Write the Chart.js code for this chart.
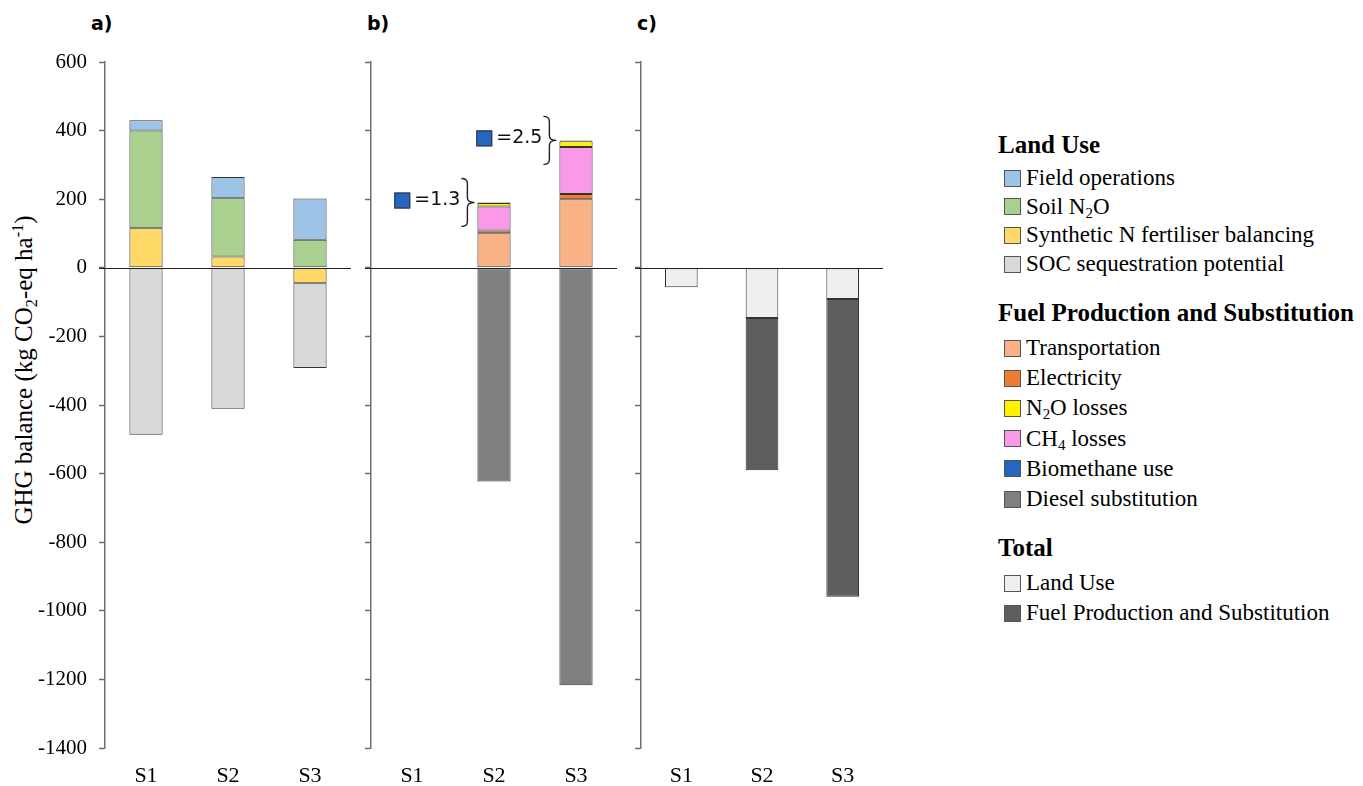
<!DOCTYPE html>
<html>
<head>
<meta charset="utf-8">
<script src="https://cdn.jsdelivr.net/npm/chart.js@4.4.0/dist/chart.umd.min.js"></script>
<style>
  html, body { margin: 0; padding: 0; background: #fff; }
  body { width: 1363px; height: 786px; position: relative; overflow: hidden;
         font-family: "Liberation Serif", "Times New Roman", serif; color: #000; }
  .panel { position: absolute; top: 0; height: 786px; }
  .panel canvas { display: block; }
  .tag { position: absolute; top: 12px; font: bold 19px "DejaVu Sans", Verdana, sans-serif; }
  .ytitle { position: absolute; left: 24px; top: 370px; white-space: nowrap; font-size: 25px;
            transform: translate(-50%, -50%) rotate(-90deg); }
  .ytitle sub, .legend sub { font-size: 0.65em; vertical-align: -0.3em; line-height: 0; }
  .ytitle sup { font-size: 0.65em; vertical-align: 0.55em; line-height: 0; }
  .legend { position: absolute; left: 0; top: 0; }
  .legend .head { position: absolute; left: 998px; font-weight: bold; font-size: 25px;
                  white-space: nowrap; transform: translateY(-50%); }
  .legend .row { position: absolute; left: 1004px; white-space: nowrap; font-size: 23px;
                 display: flex; align-items: center; transform: translateY(-50%); }
  .legend .sw { width: 15px; height: 15px; border: 1px solid #555; margin-right: 5px; flex: none; }
</style>
</head>
<body>
<div class="tag" style="left:91px">a)</div>
<div class="tag" style="left:367px">b)</div>
<div class="tag" style="left:637px">c)</div>
<div class="ytitle">GHG balance (kg CO<sub>2</sub>-eq ha<sup>-1</sup>)</div>

<div class="panel" style="left:0;width:360px"><canvas id="chartA" width="360" height="786"></canvas></div>
<div class="panel" style="left:360px;width:270px"><canvas id="chartB" width="270" height="786"></canvas></div>
<div class="panel" style="left:630px;width:270px"><canvas id="chartC" width="270" height="786"></canvas></div>

<div class="legend" id="legend"></div>

<script>
// Scenarios on the category axis
const scenarios = ['S1', 'S2', 'S3'];

// Value axis (kg CO2-eq ha-1)
const yMin = -1400;
const yMax = 600;
const yStep = 200;

// a) Land use components
const syntheticNBalancing = [115, 33, -45];
const soilN2O = [285, 170, 82];
const fieldOperations = [30, 62, 120];
const socSequestration = [-487, -411, -247];

// b) Fuel production and substitution components
const transportation = [null, 101, 200];
const electricity = [null, 8, 15];
const ch4Losses = [null, 70, 137];
const n2oLosses = [null, 10, 17];
const biomethaneUse = [null, 1.3, 2.5];
const dieselSubstitution = [null, -623, -1217];

// c) Totals
const totalLandUse = [-57, -146, -91];
const totalFuelProduction = [null, -444, -868];

const COLORS = {
  field: '#9DC3E6', soil: '#A9D08E', synth: '#FFD966', soc: '#D9D9D9',
  transport: '#F9B285', elec: '#ED7D31', n2o: '#FFF100', ch4: '#F999E7',
  biomethane: '#2566BE', diesel: '#7F7F7F', totLand: '#EFEFEF', totFuel: '#5E5E5E'
};

const SERIF = "'Liberation Serif', 'Times New Roman', serif";
Chart.defaults.font.family = SERIF;
Chart.defaults.font.size = 20;
Chart.defaults.color = '#000';

function ds(label, data, color) {
  return { label, data, backgroundColor: color, borderColor: '#333', borderWidth: 1,
           borderSkipped: false, categoryPercentage: 1, barPercentage: 0.405 };
}

// Horizontal line at zero across the plot, starting at the tick marks
const zeroLine = {
  id: 'zeroLine',
  afterDatasetsDraw(chart) {
    const y = Math.round(chart.scales.y.getPixelForValue(0)) + 0.5;
    const { left, right } = chart.chartArea;
    const ctx = chart.ctx;
    ctx.save();
    ctx.strokeStyle = '#222';
    ctx.lineWidth = 1;
    ctx.beginPath();
    ctx.moveTo(left - 6, y);
    ctx.lineTo(right, y);
    ctx.stroke();
    ctx.restore();
  }
};

// Bracketed call-out giving the (tiny) biomethane use value for each stack
const biomethaneCallout = {
  id: 'biomethaneCallout',
  afterDatasetsDraw(chart) {
    const idx = chart.data.datasets.findIndex(d => d.label === 'Biomethane use');
    const meta = chart.getDatasetMeta(idx);
    const ctx = chart.ctx;
    chart.data.datasets[idx].data.forEach((v, i) => {
      if (v == null) return;
      const bar = meta.data[i];
      const yc = bar.y;
      const barLeft = bar.x - bar.width / 2;
      const bx = barLeft - 10, tip = barLeft - 3, h = 24, hook = 6;
      ctx.save();
      ctx.strokeStyle = '#222';
      ctx.lineWidth = 1.4;
      ctx.beginPath();
      ctx.moveTo(bx - hook, yc - h);
      ctx.quadraticCurveTo(bx, yc - h, bx, yc - h + 5);
      ctx.lineTo(bx, yc - 5);
      ctx.quadraticCurveTo(bx, yc, tip, yc);
      ctx.moveTo(tip, yc);
      ctx.quadraticCurveTo(bx, yc, bx, yc + 5);
      ctx.lineTo(bx, yc + h - 5);
      ctx.quadraticCurveTo(bx, yc + h, bx - hook, yc + h);
      ctx.stroke();
      const label = '=' + v.toFixed(1);
      ctx.font = "19px 'DejaVu Sans', Verdana, sans-serif";
      ctx.fillStyle = '#111';
      ctx.textAlign = 'right';
      ctx.textBaseline = 'middle';
      const tx = bx - 7;
      ctx.fillText(label, tx, yc - 2);
      const w = ctx.measureText(label).width;
      const sx = tx - w - 4 - 16;
      ctx.fillStyle = COLORS.biomethane;
      ctx.fillRect(sx, yc - 10, 16, 16);
      ctx.strokeStyle = '#333';
      ctx.lineWidth = 1;
      ctx.strokeRect(sx + 0.5, yc - 9.5, 15, 15);
      ctx.restore();
    });
  }
};

function makePanel(id, datasets, axisWidth, padRight, showLabels, extraPlugins) {
  return new Chart(document.getElementById(id), {
    type: 'bar',
    data: { labels: scenarios, datasets },
    options: {
      responsive: false,
      animation: false,
      devicePixelRatio: 1,
      layout: { padding: { top: 62, right: padRight, bottom: 0, left: 0 } },
      plugins: { legend: { display: false }, tooltip: { enabled: false } },
      scales: {
        x: {
          stacked: true,
          grid: { display: false, drawTicks: false },
          border: { display: false },
          ticks: { color: '#000', padding: 15, font: { family: SERIF, size: 22 } },
          afterFit(scale) { scale.height = 38; }
        },
        y: {
          stacked: true,
          min: yMin, max: yMax,
          ticks: { stepSize: yStep, display: showLabels, color: '#000', padding: 12,
                   font: { family: SERIF, size: 21 },
                   callback: (v) => String(v) },
          grid: { drawOnChartArea: false, drawTicks: true, tickLength: 6,
                  tickColor: '#6f6f6f', tickWidth: 1.5 },
          border: { display: true, color: '#6f6f6f', width: 1.5 },
          afterFit(scale) { scale.width = axisWidth; }
        }
      }
    },
    plugins: [zeroLine].concat(extraPlugins || [])
  });
}

makePanel('chartA', [
  ds('Synthetic N fertiliser balancing', syntheticNBalancing, COLORS.synth),
  ds('Soil N2O', soilN2O, COLORS.soil),
  ds('Field operations', fieldOperations, COLORS.field),
  ds('SOC sequestration potential', socSequestration, COLORS.soc)
], 105, 9, true);

makePanel('chartB', [
  ds('Transportation', transportation, COLORS.transport),
  ds('Electricity', electricity, COLORS.elec),
  ds('CH4 losses', ch4Losses, COLORS.ch4),
  ds('N2O losses', n2oLosses, COLORS.n2o),
  ds('Biomethane use', biomethaneUse, COLORS.biomethane),
  ds('Diesel substitution', dieselSubstitution, COLORS.diesel)
], 11, 13, false, [biomethaneCallout]);

makePanel('chartC', [
  ds('Land Use', totalLandUse, COLORS.totLand),
  ds('Fuel Production and Substitution', totalFuelProduction, COLORS.totFuel)
], 11, 17, false);

// Grouped legend
const legendGroups = [
  { title: 'Land Use', top: 145, first: 178, step: 28.7, items: [
    ['Field operations', COLORS.field],
    ['Soil N<sub>2</sub>O', COLORS.soil],
    ['Synthetic N fertiliser balancing', COLORS.synth],
    ['SOC sequestration potential', COLORS.soc] ] },
  { title: 'Fuel Production and Substitution', top: 313, first: 348, step: 30.2, items: [
    ['Transportation', COLORS.transport],
    ['Electricity', COLORS.elec],
    ['N<sub>2</sub>O losses', COLORS.n2o],
    ['CH<sub>4</sub> losses', COLORS.ch4],
    ['Biomethane use', COLORS.biomethane],
    ['Diesel substitution', COLORS.diesel] ] },
  { title: 'Total', top: 548, first: 583, step: 30, items: [
    ['Land Use', COLORS.totLand],
    ['Fuel Production and Substitution', COLORS.totFuel] ] }
];
const legend = document.getElementById('legend');
legendGroups.forEach(g => {
  const h = document.createElement('div');
  h.className = 'head';
  h.style.top = g.top + 'px';
  h.textContent = g.title;
  legend.appendChild(h);
  g.items.forEach(([text, color], i) => {
    const r = document.createElement('div');
    r.className = 'row';
    r.style.top = (g.first + i * g.step) + 'px';
    r.innerHTML = '<span class="sw" style="background:' + color + '"></span><span>' + text + '</span>';
    legend.appendChild(r);
  });
});
</script>
</body>
</html>
